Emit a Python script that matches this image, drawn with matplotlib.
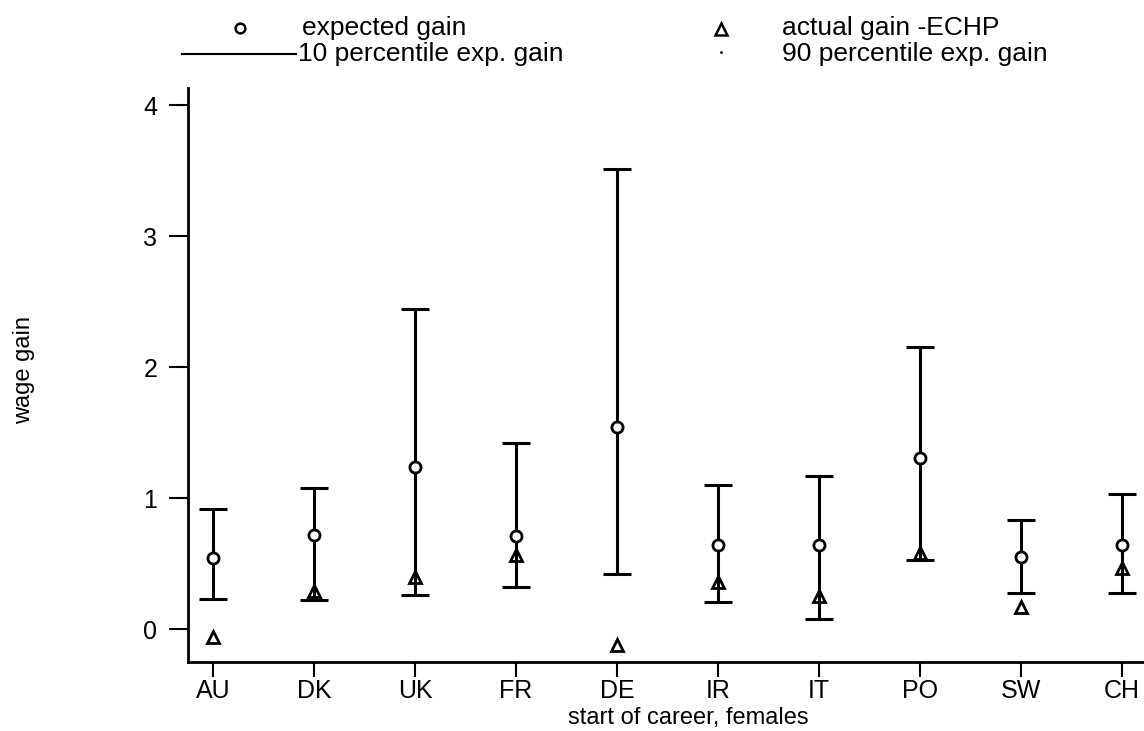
import numpy as np
import matplotlib.pyplot as plt
from matplotlib.lines import Line2D

plt.rcParams['font.family'] = ['Liberation Sans', 'DejaVu Sans']

countries = ['AU', 'DK', 'UK', 'FR', 'DE', 'IR', 'IT', 'PO', 'SW', 'CH']
expected = [0.54, 0.72, 1.24, 0.71, 1.54, 0.64, 0.64, 1.31, 0.55, 0.64]
actual = [-0.06, 0.29, 0.40, 0.57, -0.12, 0.36, 0.25, 0.58, 0.17, 0.47]
p10 = [0.23, 0.22, 0.26, 0.32, 0.42, 0.21, 0.08, 0.53, 0.28, 0.28]
p90 = [0.92, 1.08, 2.44, 1.42, 3.51, 1.10, 1.17, 2.15, 0.83, 1.03]

x = np.arange(len(countries))
exp_ = np.array(expected)
lo = exp_ - np.array(p10)
hi = np.array(p90) - exp_

fig = plt.figure(figsize=(11.44, 7.31), dpi=100)
ax = fig.add_axes([188/1144, 69/731, 1 - 188/1144, (662-88)/731])

ax.errorbar(x, exp_, yerr=[lo, hi], fmt='none', ecolor='black', elinewidth=2.2,
            capsize=10, capthick=2.2)
ax.plot(x, expected, 'o', ms=8, mfc='white', mec='black', mew=2, ls='none')
ax.plot(x, actual, '^', ms=9, mfc='none', mec='black', mew=2, ls='none')

ax.set_xlim(-0.25, 9.22)
ax.set_ylim(-0.25, 4.13)
ax.set_yticks([0, 1, 2, 3, 4])
ax.set_xticks(x)
ax.set_xticklabels(countries)
ax.spines['top'].set_visible(False)
ax.spines['right'].set_visible(False)
ax.spines['left'].set_linewidth(2)
ax.spines['bottom'].set_linewidth(2)
ax.tick_params(axis='y', length=14, width=1.5, pad=8, labelsize=18)
ax.tick_params(axis='x', length=11, width=1.5, pad=1, labelsize=18)

fig.text(688/1144, 1 - 718/731, 'start of career, females', ha='center', va='center', fontsize=17)
fig.text(24/1144, 1 - 370/731, 'wage gain', ha='center', va='center', rotation=90, fontsize=17)

# legend drawn in figure coordinates
def fx(px):
    return px / 1144

def fy(py):
    return 1 - py / 731

fig.add_artist(Line2D([fx(240)], [fy(28)], marker='o', ms=7, mfc='white', mec='black', mew=1.8))
fig.add_artist(Line2D([fx(182), fx(296)], [fy(54), fy(54)], color='black', lw=1.5))
fig.add_artist(Line2D([fx(721)], [fy(29)], marker='^', ms=8, mfc='white', mec='black', mew=1.8))
fig.add_artist(Line2D([fx(721)], [fy(52)], marker='.', ms=2, color='black'))
fig.text(fx(302), fy(28), 'expected gain', va='center', fontsize=19)
fig.text(fx(298), fy(54), '10 percentile exp. gain', va='center', fontsize=19)
fig.text(fx(782), fy(28), 'actual gain -ECHP', va='center', fontsize=19)
fig.text(fx(782), fy(54), '90 percentile exp. gain', va='center', fontsize=19)

fig.savefig('out.png', dpi=100)
